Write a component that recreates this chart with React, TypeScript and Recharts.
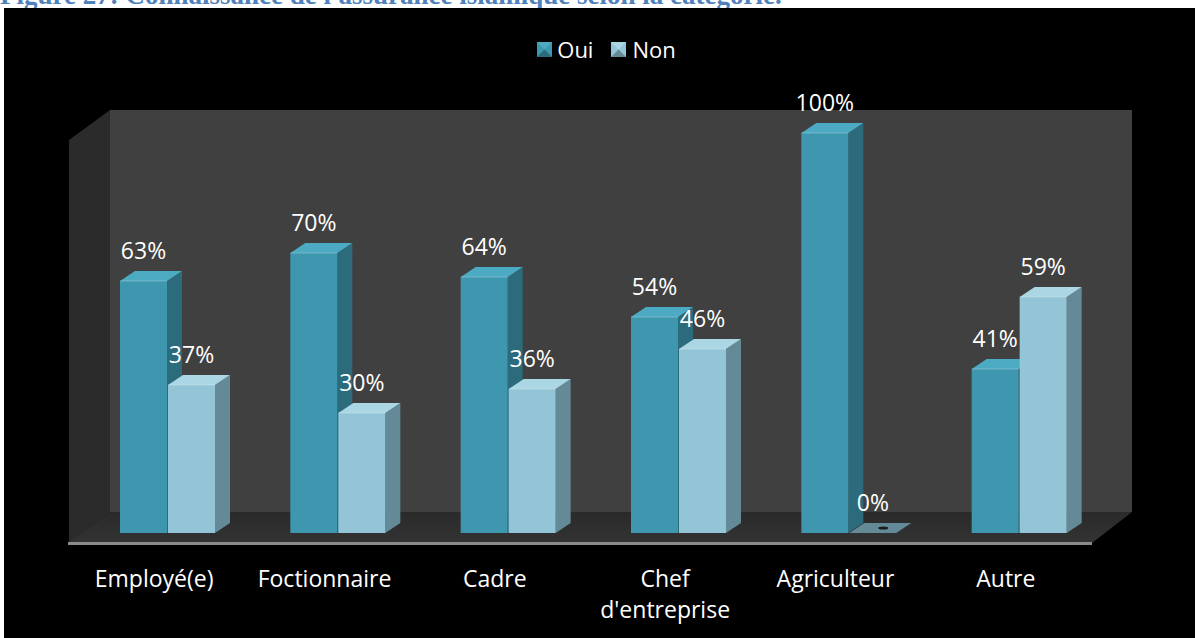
import React from "react";
import { BarChart, Bar, XAxis, YAxis, Legend, LabelList } from "recharts";

const categories = ["Employé(e)", "Foctionnaire", "Cadre", "Chef d'entreprise", "Agriculteur", "Autre"];
const tickLines = [["Employé(e)"], ["Foctionnaire"], ["Cadre"], ["Chef", "d'entreprise"], ["Agriculteur"], ["Autre"]];
const oui = [63, 70, 64, 54, 100, 41];
const non = [37, 30, 36, 46, 0, 59];

const data = categories.map((c, i) => ({ name: c, oui: oui[i], non: non[i] }));

const W = 1195;
const H = 638;
const FONT = "'Open Sans', 'Noto Sans', sans-serif";
const DX = 15;
const DY = 10;

const OUI = { front: "#3f97af", side: "#2b6b7c", top: "#4caac3" };
const NON = { front: "#94c5d7", side: "#648a97", top: "#abd6e3" };

function makeShape(c: { front: string; side: string; top: string }) {
  return (props: any) => {
    const { x, y, width: w, height: h } = props;
    if (x == null || y == null) return null;
    const top = `${x},${y} ${x + DX},${y - DY} ${x + w + DX},${y - DY} ${x + w},${y}`;
    const side = `${x + w},${y} ${x + w + DX},${y - DY} ${x + w + DX},${y + h - DY} ${x + w},${y + h}`;
    if (!h) {
      return (
        <g>
          <polygon points={top} fill={c.side} />
          <ellipse cx={x + w / 2 + DX / 2 + 3} cy={y - DY / 2} rx={5} ry={1.5} fill="#1c1c1c" />
        </g>
      );
    }
    return (
      <g>
        <polygon points={side} fill={c.side} />
        <rect x={x} y={y} width={w} height={h} fill={c.front} />
        <polygon points={top} fill={c.top} />
        <line x1={x} y1={y} x2={x + w} y2={y} stroke="#ffffff" strokeOpacity={0.25} />
      </g>
    );
  };
}

const valueLabel = (props: any) => {
  const { x, y, width, value } = props;
  return (
    <text x={x + width / 2} y={y - 22} textAnchor="middle" fill="#fff" fontSize={23} fontFamily={FONT}>
      {value}%
    </text>
  );
};

const CatTick = (props: any) => {
  const { x, y, index } = props;
  const lines = tickLines[index] || [props.payload.value];
  return (
    <g>
      {lines.map((l, i) => (
        <text key={i} x={x - 13} y={y + 46 + i * 31} textAnchor="middle" fill="#fff" fontSize={23} fontFamily={FONT}>
          {l}
        </text>
      ))}
    </g>
  );
};

const Marker = ({ c }: { c: { front: string; side: string; top: string } }) => (
  <svg width={15} height={15} style={{ display: "block" }}>
    <rect x={0} y={0} width={15} height={15} fill={c.front} />
    <polygon points="0,0 15,0 7.5,7.5" fill={c.top} />
    <polygon points="0,15 15,15 7.5,7.5" fill={c.side} />
  </svg>
);

const LegendContent = () => (
  <div style={{ display: "flex", justifyContent: "center", alignItems: "center", paddingLeft: 18, fontFamily: FONT, fontSize: 22, color: "#fff" }}>
    <Marker c={OUI} />
    <span style={{ marginLeft: 5, marginRight: 18 }}>Oui</span>
    <Marker c={NON} />
    <span style={{ marginLeft: 6 }}>Non</span>
  </div>
);

export default function App() {
  return (
    <div style={{ position: "absolute", left: 0, top: 0, width: W, height: H, overflow: "hidden", background: "#fff" }}>
      <svg width={W} height={H} style={{ position: "absolute", left: 0, top: 0 }}>
        <defs>
          <linearGradient id="floorGrad" x1="0" y1="0" x2="0" y2="1">
            <stop offset="0%" stopColor="#2a2a2a" />
            <stop offset="100%" stopColor="#333333" />
          </linearGradient>
        </defs>
        <text x={0} y={4} fill="#4f81bd" fontSize={27} fontWeight="bold" fontFamily="'Liberation Serif', serif">
          Figure 27: Connaissance de l'assurance islamique selon la catégorie.
        </text>
        <rect x={4} y={8} width={W - 4} height={H - 8} fill="#000" />
        <polygon points="110,110 1132,110 1132,512 110,512" fill="#404040" />
        <polygon points="69,140 110,110 110,512 69,543" fill="#2b2b2b" />
        <polygon points="110,512 1132,512 1092,543 68,543" fill="url(#floorGrad)" />
        <rect x={68} y={542} width={1024} height={3} fill="#8a8a8a" />
      </svg>
      <div style={{ position: "absolute", left: 0, top: 0 }}>
        <BarChart width={W} height={H} data={data} margin={{ top: 133, right: 91, bottom: 45, left: 82 }} barGap={1} barSize={47}>
          <YAxis hide domain={[0, 100]} />
          <XAxis dataKey="name" height={60} axisLine={false} tickLine={false} tick={<CatTick />} interval={0} />
          <Legend verticalAlign="middle" align="center" layout="horizontal" wrapperStyle={{ top: 34, left: 0, width: W }} content={<LegendContent />} />
          <Bar dataKey="oui" name="Oui" fill={OUI.front} shape={makeShape(OUI)} isAnimationActive={false}>
            <LabelList dataKey="oui" content={valueLabel} />
          </Bar>
          <Bar dataKey="non" name="Non" fill={NON.front} shape={makeShape(NON)} isAnimationActive={false}>
            <LabelList dataKey="non" content={valueLabel} />
          </Bar>
        </BarChart>
      </div>
    </div>
  );
}
